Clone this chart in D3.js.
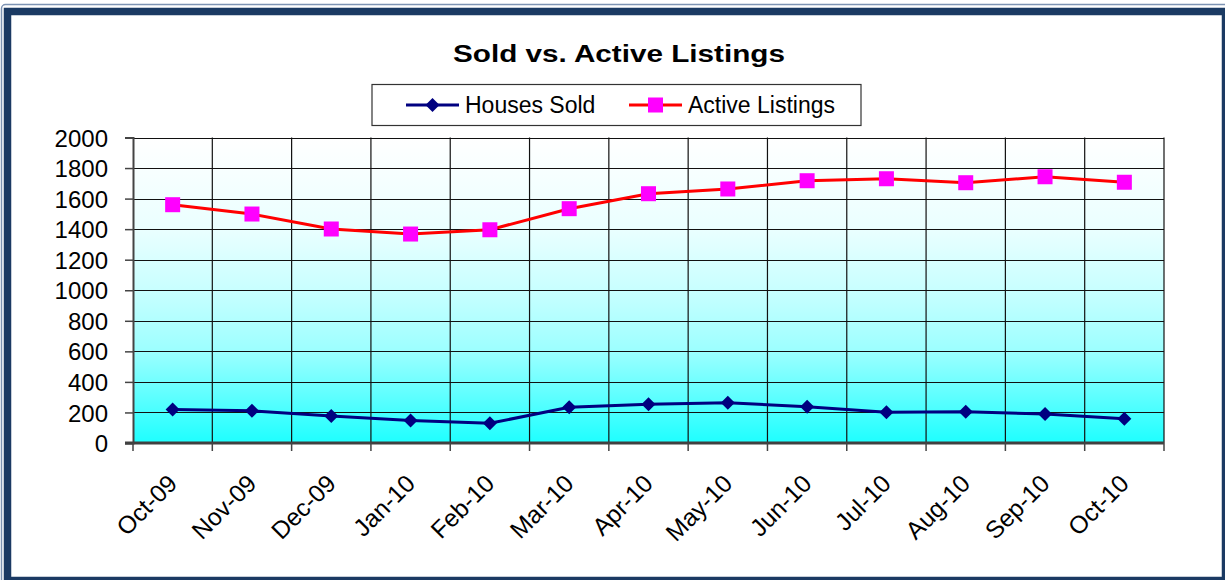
<!DOCTYPE html>
<html>
<head>
<meta charset="utf-8">
<script src="https://cdn.jsdelivr.net/npm/d3@7/dist/d3.min.js"></script>
<style>
  html, body { margin: 0; padding: 0; background: #fff; }
  svg { display: block; font-family: "Liberation Sans", Arial, sans-serif; }
</style>
</head>
<body>
<svg id="chart" width="1225" height="580"></svg>
<script>
const months = ["Oct-09","Nov-09","Dec-09","Jan-10","Feb-10","Mar-10","Apr-10","May-10","Jun-10","Jul-10","Aug-10","Sep-10","Oct-10"];
const housesSold = [220, 211, 177, 148, 129, 234, 253, 264, 238, 201, 205, 190, 159];
const activeListings = [1560, 1499, 1401, 1368, 1396, 1534, 1632, 1663, 1717, 1730, 1704, 1743, 1707];
const yTicks = [0, 200, 400, 600, 800, 1000, 1200, 1400, 1600, 1800, 2000];
const seriesNames = ["Houses Sold", "Active Listings"];

const svg = d3.select("#chart");
const W = 1225, H = 580;
const plot = { left: 133, right: 1164, top: 137.5, bottom: 443 };

// gradient
const defs = svg.append("defs");
const grad = defs.append("linearGradient").attr("id", "bg").attr("x1", 0).attr("y1", 0).attr("x2", 0).attr("y2", 1);
grad.append("stop").attr("offset", "0%").attr("stop-color", "#ffffff");
grad.append("stop").attr("offset", "30%").attr("stop-color", "#eaffff");
grad.append("stop").attr("offset", "50%").attr("stop-color", "#c8ffff");
grad.append("stop").attr("offset", "70%").attr("stop-color", "#9cffff");
grad.append("stop").attr("offset", "100%").attr("stop-color", "#1effff");

// frame
svg.append("rect").attr("x", 1.5).attr("y", 4.5).attr("width", W + 10).attr("height", H + 10)
  .attr("rx", 4).attr("fill", "none").attr("stroke", "#7d93b3").attr("stroke-width", 1.5);
svg.append("rect").attr("x", 7.5).attr("y", 11.5).attr("width", 1218).attr("height", 569)
  .attr("fill", "#fff").attr("stroke", "#1b3a63").attr("stroke-width", 7.5);

const x = d3.scaleBand().domain(months).range([plot.left, plot.right]);
const y = d3.scaleLinear().domain([0, 2000]).range([plot.bottom, plot.top]);

// plot background
svg.append("rect").attr("x", plot.left).attr("y", plot.top)
  .attr("width", plot.right - plot.left).attr("height", plot.bottom - plot.top)
  .attr("fill", "url(#bg)");

// horizontal gridlines
svg.append("g").selectAll("line").data(yTicks.filter(d => d > 0)).join("line")
  .attr("x1", plot.left).attr("x2", plot.right)
  .attr("y1", d => Math.round(y(d)) + 0.5).attr("y2", d => Math.round(y(d)) + 0.5)
  .attr("stroke", "#111").attr("stroke-width", 1.2);

// vertical gridlines at band boundaries
const bounds = d3.range(months.length + 1).map(i => plot.left + i * x.step());
svg.append("g").selectAll("line").data(bounds.slice(1)).join("line")
  .attr("x1", d => d).attr("x2", d => d)
  .attr("y1", plot.top).attr("y2", plot.bottom)
  .attr("stroke", "#111").attr("stroke-width", 1.2);

// y axis
const yAxis = svg.append("g").attr("transform", `translate(${plot.left},0)`)
  .call(d3.axisLeft(y).tickValues(yTicks).tickSize(8).tickPadding(17).tickFormat(d3.format("d")));
yAxis.select(".domain").attr("stroke", "#444").attr("stroke-width", 2);
yAxis.selectAll(".tick line").attr("stroke", "#444").attr("stroke-width", 1.5);
yAxis.selectAll(".tick text").attr("font-size", 24).attr("fill", "#000")
  .attr("font-family", "Liberation Sans, Arial, sans-serif").attr("dy", "0.36em");

// x axis line and ticks
svg.append("line").attr("x1", plot.left - 8).attr("x2", plot.right)
  .attr("y1", plot.bottom).attr("y2", plot.bottom)
  .attr("stroke", "#404040").attr("stroke-width", 3);
svg.append("g").selectAll("line").data(bounds).join("line")
  .attr("x1", d => d).attr("x2", d => d)
  .attr("y1", plot.bottom).attr("y2", plot.bottom + 8)
  .attr("stroke", "#444").attr("stroke-width", 1.5);

// x labels
svg.append("g").selectAll("text").data(months).join("text")
  .attr("transform", d => `translate(${x(d) + x.bandwidth() / 2 + 6},485) rotate(-45)`)
  .attr("text-anchor", "end").attr("font-size", 24.5).attr("fill", "#000")
  .text(d => d);

// lines
const cx = d => x(d) + x.bandwidth() / 2;
const line = d3.line().x(d => cx(d[0])).y(d => y(d[1]));
svg.append("path").datum(months.map((m, i) => [m, activeListings[i]]))
  .attr("d", line).attr("fill", "none").attr("stroke", "#ff0000").attr("stroke-width", 3);
svg.append("path").datum(months.map((m, i) => [m, housesSold[i]]))
  .attr("d", line).attr("fill", "none").attr("stroke", "#000080").attr("stroke-width", 3);

// markers
const diamond = "M0,-7L7,0L0,7L-7,0Z";
svg.append("g").selectAll("rect").data(months.map((m, i) => [m, activeListings[i]])).join("rect")
  .attr("x", d => cx(d[0]) - 7.5).attr("y", d => y(d[1]) - 7.5)
  .attr("width", 15).attr("height", 15).attr("fill", "#ff00ff");
svg.append("g").selectAll("path").data(months.map((m, i) => [m, housesSold[i]])).join("path")
  .attr("transform", d => `translate(${cx(d[0])},${y(d[1])})`)
  .attr("d", diamond).attr("fill", "#000080");

// title
svg.append("text").attr("x", 619).attr("y", 62).attr("text-anchor", "middle")
  .attr("font-size", 23).attr("font-weight", "bold").attr("fill", "#000")
  .attr("textLength", 332).attr("lengthAdjust", "spacingAndGlyphs")
  .text("Sold vs. Active Listings");

// legend
const lg = svg.append("g");
lg.append("rect").attr("x", 372).attr("y", 84.5).attr("width", 489).attr("height", 41)
  .attr("fill", "#fff").attr("stroke", "#333").attr("stroke-width", 1.2);
const legendItems = [
  { name: seriesNames[0], x0: 406, color: "#000080", marker: "diamond" },
  { name: seriesNames[1], x0: 629, color: "#ff0000", marker: "square" }
];
legendItems.forEach(it => {
  lg.append("line").attr("x1", it.x0).attr("x2", it.x0 + 53).attr("y1", 105).attr("y2", 105)
    .attr("stroke", it.color).attr("stroke-width", 3);
  if (it.marker === "diamond") {
    lg.append("path").attr("transform", `translate(${it.x0 + 26.5},105)`).attr("d", diamond).attr("fill", "#000080");
  } else {
    lg.append("rect").attr("x", it.x0 + 26.5 - 7.5).attr("y", 97.5).attr("width", 15).attr("height", 15).attr("fill", "#ff00ff");
  }
  lg.append("text").attr("x", it.x0 + 59).attr("y", 113).attr("font-size", 23).attr("fill", "#000").text(it.name);
});
</script>
</body>
</html>
